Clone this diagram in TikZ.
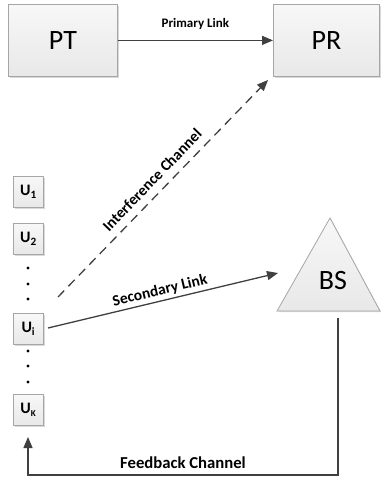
\documentclass[tikz,border=0pt]{standalone}
\usepackage{fontspec}
\setmainfont{Carlito}
\usetikzlibrary{arrows.meta,shadows}
\definecolor{boxline}{HTML}{A6A6A6}
\definecolor{arrowc}{HTML}{404040}
\tikzset{
  box/.style={draw=boxline, line width=0.8pt, top color=white!97!black, bottom color=white!91!black,
    drop shadow={shadow xshift=1.2pt, shadow yshift=-1.2pt, fill=black!25, opacity=0.6},
    inner sep=0pt, anchor=north west},
  bigbox/.style={box, minimum width=108pt, minimum height=72pt, font=\fontsize{28}{30}\selectfont},
  ubox/.style={box, minimum width=30pt, minimum height=31pt, font=\bfseries\fontsize{16}{18}\selectfont},
  conn/.style={draw=arrowc, line width=1.3pt, -{Triangle[length=11pt,width=9pt]}},
  lbl/.style={font=\bfseries\fontsize{13}{15}\selectfont, text=black, inner sep=0pt},
  udot/.style={circle, fill=black, inner sep=0pt, minimum size=3.2pt}
}
\begin{document}
\begin{tikzpicture}[x=1pt,y=-1pt]
\useasboundingbox (0,0) rectangle (380,481);
% big boxes
\node[bigbox, minimum width=109pt] (PT) at (8,4) {PT};
\node[bigbox, minimum width=106pt] (PR) at (273,4) {PR};
% BS triangle
\coordinate (bsapex) at (330,218);
\coordinate (bsl) at (277,311);
\coordinate (bsr) at (380,311);
\path[draw=boxline, line width=0.8pt, top color=white!97!black, bottom color=white!91!black,
  drop shadow={shadow xshift=1.2pt, shadow yshift=-1.2pt, fill=black!25, opacity=0.6}]
  (bsapex) -- (bsr) -- (bsl) -- cycle;
\node[font=\fontsize{28}{30}\selectfont, inner sep=0pt] (BS) at (333,281) {BS};
% user boxes
\node[ubox] (U1) at (13,176) {U\textsubscript{1}};
\node[ubox] (U2) at (13,223) {U\textsubscript{2}};
\node[ubox] (Ui) at (13,313) {U\textsubscript{i}};
\node[ubox] (UK) at (13,394) {U\textsubscript{\fontsize{9}{10}\selectfont K}};
\node[udot] (d1) at (28,268) {};
\node[udot] (d2) at (28,284) {};
\node[udot] (d3) at (28,299) {};
\node[udot] (d4) at (28,351) {};
\node[udot] (d5) at (28,366) {};
\node[udot] (d6) at (28,382) {};
% primary link
\draw[conn] (PT.east) -- (PR.west) node[lbl, midway, above=10pt] {Primary Link};
% interference
\coordinate (ifs) at (58,297);
\coordinate (ife) at (268,80);
\draw[conn, dash pattern=on 9pt off 6pt] (ifs) -- (ife);
\node[lbl, font=\bfseries\fontsize{15.5}{17}\selectfont, rotate=46] (ifl) at (152,180) {Interference Channel};
% secondary
\coordinate (sls) at (48,328);
\coordinate (sle) at (278,273);
\draw[conn] (sls) -- (sle);
\node[lbl, font=\bfseries\fontsize{15.5}{17}\selectfont, rotate=13.4] (sll) at (160,291) {Secondary Link};
% feedback
\coordinate (fbs) at (338,318);
\coordinate (fbc1) at (338,475);
\coordinate (fbc2) at (28,475);
\coordinate (fbe) at (28,437);
\draw[conn] (fbs) -- (fbc1) -- (fbc2) -- (fbe);
\node[lbl, font=\bfseries\fontsize{16.7}{18}\selectfont] (fbl) at (183,463) {Feedback Channel};
\end{tikzpicture}
\end{document}
